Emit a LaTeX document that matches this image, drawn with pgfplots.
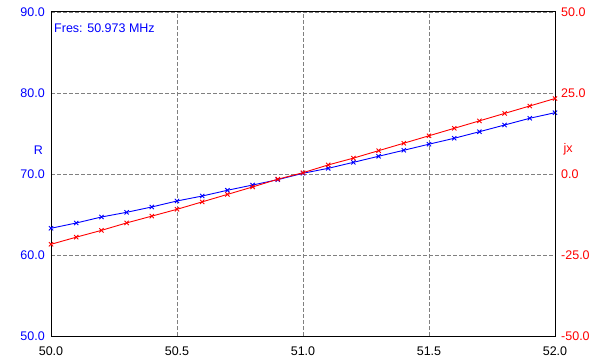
\documentclass[border=0pt]{standalone}
\usepackage{fontspec}
\setmainfont{Liberation Sans}
\usepackage{pgfplots}
\pgfplotsset{compat=1.18}
\definecolor{rblue}{RGB}{0,0,255}
\definecolor{rred}{RGB}{255,0,0}
\definecolor{gridgray}{RGB}{128,128,128}
\begin{document}
\begin{tikzpicture}[font=\fontsize{12.5bp}{15bp}\selectfont]
\path[use as bounding box] (-51bp,-27bp) rectangle (556bp,336bp);
\begin{axis}[
  at={(0,0)}, anchor=south west,
  scale only axis, width=504bp, height=324bp,
  xmin=50, xmax=52, ymin=50, ymax=90,
  xtick={50,50.5,51,51.5,52}, ytick={50,60,70,80,90},
  grid=major,
  major grid style={gridgray, dash pattern=on 4bp off 2bp, line width=0.7bp},
  major tick length=0pt,
  axis line style={black, line width=1bp},
  xtick pos=bottom, ytick pos=left,
  /pgf/number format/.cd, fixed, fixed zerofill, precision=1, assume math mode=true,
  /pgfplots/.cd,
  yticklabel style={text=rblue, inner sep=0pt, xshift=-6bp},
  xticklabel style={text=black, inner sep=0pt, yshift=-11bp},
  clip=false,
]
\addplot[rblue, line width=0.9bp, mark=x, mark size=3bp, mark options={solid}] coordinates {
(50.0,63.30) (50.1,63.95) (50.2,64.69) (50.3,65.27) (50.4,65.93) (50.5,66.67)
(50.6,67.28) (50.7,67.99) (50.8,68.64) (50.9,69.30) (51.0,70.09) (51.1,70.70)
(51.2,71.44) (51.3,72.19) (51.4,72.93) (51.5,73.68) (51.6,74.41) (51.7,75.22)
(51.8,76.05) (51.9,76.88) (52.0,77.57)};
\node[text=rblue, anchor=west, inner sep=0pt] at (axis description cs:0.006,0.949) {Fres: 50.973 MHz};
\node[text=rblue, inner sep=0pt] at (axis description cs:-0.025,0.574) {R};
\end{axis}
\begin{axis}[
  at={(0,0)}, anchor=south west,
  scale only axis, width=504bp, height=324bp,
  xmin=50, xmax=52, ymin=-50, ymax=50,
  hide x axis,
  axis y line*=right,
  ytick={-50,-25,0,25,50},
  major tick length=0pt,
  axis line style={black, line width=1bp},
  /pgf/number format/.cd, fixed, fixed zerofill, precision=1, assume math mode=true,
  /pgfplots/.cd,
  yticklabel style={text=rred, inner sep=0pt, xshift=6bp},
  clip=false,
]
\addplot[rred, line width=0.9bp, mark=x, mark size=3bp, mark options={solid}] coordinates {
(50.0,-21.7) (50.1,-19.5) (50.2,-17.4) (50.3,-15.1) (50.4,-13.0) (50.5,-10.9)
(50.6,-8.6) (50.7,-6.3) (50.8,-4.0) (50.9,-1.6) (51.0,0.4) (51.1,2.8)
(51.2,4.9) (51.3,7.2) (51.4,9.5) (51.5,11.8) (51.6,14.1) (51.7,16.4)
(51.8,18.7) (51.9,21.0) (52.0,23.3)};
\node[text=rred, inner sep=0pt] at (axis description cs:1.026,0.577) {jx};
\end{axis}
\end{tikzpicture}
\end{document}
